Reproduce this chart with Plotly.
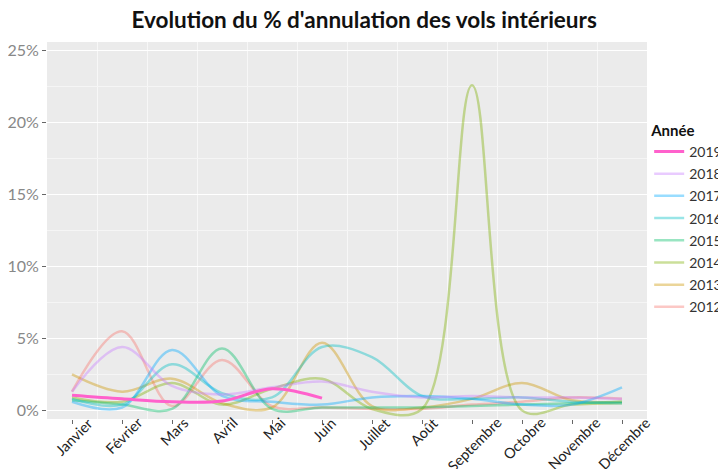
import plotly.graph_objects as go

# Month labels (x axis)
months = ["Janvier", "Février", "Mars", "Avril", "Mai", "Juin", "Juillet",
          "Août", "Septembre", "Octobre", "Novembre", "Décembre"]
month_num = list(range(1, 13))

# % of cancelled domestic flights
y2012 = [1.3, 5.5, 0.3, 3.5, 0.3, 0.2, 0.1, 0.1, 0.4, 0.6, 0.9, 0.8]
y2013 = [2.5, 1.3, 2.2, 0.5, 0.2, 4.7, 0.3, 0.2, 0.8, 1.9, 0.7, 0.6]
y2014 = [0.9, 0.6, 1.9, 0.4, 1.5, 2.2, 0.1, 0.1, 22.6, 0.0, 0.4, 0.5]
y2015 = [0.7, 0.4, 0.1, 4.3, 0.1, 0.2, 0.2, 0.2, 0.3, 0.4, 0.5, 0.6]
y2016 = [0.8, 0.4, 3.2, 1.2, 0.9, 4.4, 3.7, 1.0, 0.8, 0.9, 0.6, 0.5]
y2017 = [0.6, 0.2, 4.2, 1.0, 0.6, 0.4, 0.9, 1.0, 0.8, 0.4, 0.4, 1.6]
y2018 = [1.3, 4.4, 1.7, 1.1, 1.6, 2.0, 1.3, 0.9, 1.0, 0.9, 0.9, 0.8]
y2019 = [1.05, 0.8, 0.6, 0.65, 1.5, 0.85]

years = ["2012", "2013", "2014", "2015", "2016", "2017", "2018", "2019"]
series = [y2012, y2013, y2014, y2015, y2016, y2017, y2018, y2019]
colors = ["248,118,109", "205,150,0", "124,174,0", "0,190,103",
          "0,191,196", "0,169,255", "199,124,255", "255,97,204"]

fig = go.Figure()

for i, (year, vals, col) in enumerate(zip(years, series, colors)):
    current = year == "2019"
    fig.add_trace(
        go.Scatter(
            x=month_num[:len(vals)],
            y=vals,
            mode="lines",
            name=year,
            legendgroup=year,  # one group per year, to space the legend rows
            legendrank=len(years) - i,  # newest year on top
            line=dict(
                shape="spline",
                smoothing=1,
                width=3 if current else 2.5,
                color=f"rgba({col},1)" if current else f"rgba({col},0.4)",
            ),
        )
    )

# rotated month labels, centred under each tick (like ggplot angle=45)
month_labels = [
    dict(x=m, y=0.021, xref="x", yref="paper", text=name, showarrow=False,
         textangle=-45, xanchor="center", yanchor="top", xshift=2,
         font=dict(size=14.5, color="#222"))
    for m, name in zip(month_num, months)
]

fig.update_layout(
    # the page body adds an 8px margin, so the figure is a bit smaller
    width=718,
    height=461,
    margin=dict(l=39, r=79, t=34, b=50),
    paper_bgcolor="white",
    plot_bgcolor="#EBEBEB",
    font=dict(family="Lato", color="#333"),
    title=dict(
        text="<b>Evolution du % d'annulation des vols intérieurs</b>",
        x=0.496, xref="container", xanchor="center",
        y=0.974, yref="container", yanchor="middle",
        font=dict(family="Lato", size=22.5, color="#111"),
    ),
    legend=dict(
        title=dict(text="<b>Année</b>", font=dict(size=15, color="#111")),
        traceorder="grouped",
        xref="container", x=0.893, xanchor="left",
        yref="container", y=0.765, yanchor="top",
        font=dict(size=14, color="#333"),
        itemwidth=30,
        tracegroupgap=1,
        bgcolor="rgba(0,0,0,0)",
    ),
    xaxis=dict(
        range=[0.5, 12.5],
        automargin=False,
        tickvals=month_num,
        showticklabels=False,
        ticks="outside", ticklen=4, tickcolor="#666",
        showgrid=False, zeroline=False,
        minor=dict(tick0=0.5, dtick=1, showgrid=True, gridcolor="#F7F7F7",
                   gridwidth=0.8, ticklen=0),
    ),
    yaxis=dict(
        range=[-0.6, 25.6],
        automargin=False,
        tickvals=[0, 5, 10, 15, 20, 25],
        ticktext=["0%", "5%", "10%", "15%", "20%", "25%"],
        tickfont=dict(size=16, color="#888"),
        ticks="outside", ticklen=4, tickcolor="#666",
        showgrid=True, gridcolor="white", gridwidth=1.3,
        zeroline=False,
        minor=dict(tick0=2.5, dtick=5, showgrid=True, gridcolor="#F5F5F5",
                   gridwidth=0.7, ticklen=0),
    ),
    annotations=month_labels,
)

fig.write_html("out.html")
